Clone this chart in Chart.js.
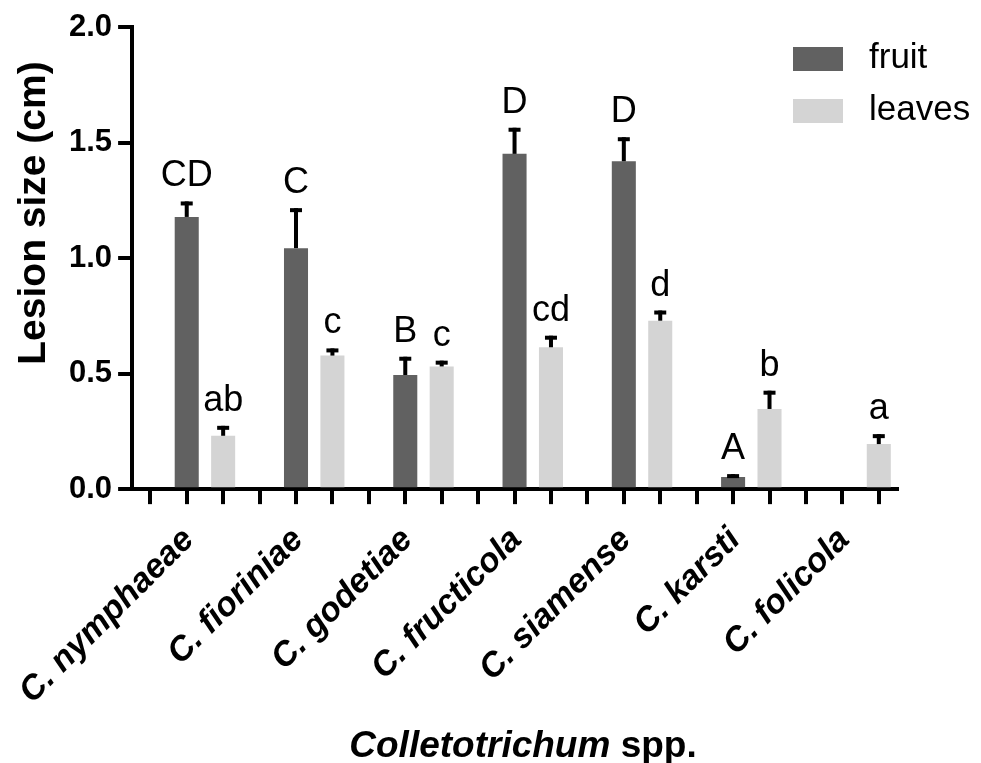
<!DOCTYPE html>
<html>
<head>
<meta charset="utf-8">
<script src="https://cdn.jsdelivr.net/npm/chart.js@4.4.0/dist/chart.umd.min.js"></script>
<style>
  html, body { margin: 0; padding: 0; background: #fff; }
</style>
</head>
<body>
<canvas id="myChart" width="981" height="763"></canvas>
<script>
var especies = ['C. nymphaeae', 'C. fioriniae', 'C. godetiae', 'C. fructicola', 'C. siamense', 'C. karsti', 'C. folicola'];
var frutoMedia = [1.178, 1.043, 0.494, 1.451, 1.419, 0.053, null];
var frutoErro = [0.067, 0.173, 0.079, 0.113, 0.104, 0.012, null];
var frutoLetras = ['CD', 'C', 'B', 'D', 'D', 'A', ''];
var folhaMedia = [0.231, 0.578, 0.531, 0.614, 0.729, 0.347, 0.195];
var folhaErro = [0.043, 0.031, 0.025, 0.050, 0.044, 0.079, 0.043];
var folhaLetras = ['ab', 'c', 'c', 'cd', 'd', 'b', 'a'];
var yTicks = [0, 0.5, 1.0, 1.5, 2.0];

var fonte = '"Liberation Sans", Arial, sans-serif';

// cada especie ocupa 3 posicoes: vazio, fruit, leaves
var posicoes = [];
var frutoDados = [], frutoE = [], frutoL = [];
var folhaDados = [], folhaE = [], folhaL = [];
for (var i = 0; i < especies.length; i++) {
    posicoes.push('', especies[i], '');
    frutoDados.push(null, frutoMedia[i], null);
    frutoE.push(null, frutoErro[i], null);
    frutoL.push('', frutoLetras[i], '');
    folhaDados.push(null, null, folhaMedia[i]);
    folhaE.push(null, null, folhaErro[i]);
    folhaL.push('', '', folhaLetras[i]);
}

var barrasDeErro = {
    id: 'barrasDeErro',
    afterDatasetsDraw: function (chart) {
        var ctx = chart.ctx;
        var y = chart.scales.y;
        chart.data.datasets.forEach(function (ds, d) {
            var meta = chart.getDatasetMeta(d);
            meta.data.forEach(function (bar, i) {
                var v = ds.data[i];
                if (v === null || v === undefined) return;
                var topo = y.getPixelForValue(v + ds.erros[i]);
                ctx.save();
                ctx.fillStyle = '#000';
                ctx.fillRect(bar.x - 2, topo, 4, bar.y - topo);
                ctx.fillRect(bar.x - 6, topo, 12, 4);
                ctx.font = '36px ' + fonte;
                ctx.textAlign = 'center';
                ctx.textBaseline = 'alphabetic';
                ctx.fillText(ds.letras[i], bar.x, topo - 15);
                ctx.restore();
            });
        });
    }
};

var textos = {
    id: 'textos',
    afterDraw: function (chart) {
        var ctx = chart.ctx;
        ctx.save();
        // legenda
        ctx.textAlign = 'left';
        ctx.textBaseline = 'middle';
        ctx.font = '35px ' + fonte;
        chart.data.datasets.forEach(function (ds, d) {
            ctx.fillStyle = ds.backgroundColor;
            ctx.fillRect(793, 47 + d * 52, 50, 24);
            ctx.fillStyle = '#000';
            ctx.fillText(ds.label, 869, 58 + d * 52);
        });
        // titulo do eixo y
        ctx.save();
        ctx.translate(34, 213);
        ctx.rotate(-Math.PI / 2);
        ctx.textAlign = 'center';
        ctx.textBaseline = 'middle';
        ctx.font = 'bold 39px ' + fonte;
        ctx.fillText('Lesion size (cm)', 0, 0);
        ctx.restore();
        // titulo do eixo x
        ctx.textBaseline = 'alphabetic';
        ctx.font = 'italic bold 37px ' + fonte;
        var p1 = 'Colletotrichum';
        var w1 = ctx.measureText(p1).width;
        ctx.font = 'bold 37px ' + fonte;
        var p2 = ' spp.';
        var w2 = ctx.measureText(p2).width;
        var x0 = 523 - (w1 + w2) / 2;
        ctx.font = 'italic bold 37px ' + fonte;
        ctx.fillText(p1, x0, 757);
        ctx.font = 'bold 37px ' + fonte;
        ctx.fillText(p2, x0 + w1, 757);
        ctx.restore();
    }
};

var ctx = document.getElementById('myChart');
var chart = new Chart(ctx, {
    type: 'bar',
    data: {
        labels: posicoes,
        datasets: [{
            label: 'fruit',
            data: frutoDados,
            erros: frutoE,
            letras: frutoL,
            backgroundColor: '#616161'
        }, {
            label: 'leaves',
            data: folhaDados,
            erros: folhaE,
            letras: folhaL,
            backgroundColor: '#d4d4d4'
        }]
    },
    options: {
        responsive: false,
        animation: false,
        layout: { padding: { top: 27, left: 63, right: 84, bottom: 35 } },
        datasets: { bar: { grouped: false, barPercentage: 0.66, categoryPercentage: 1 } },
        plugins: { legend: { display: false }, tooltip: { enabled: false } },
        scales: {
            x: {
                ticks: {
                    autoSkip: false,
                    minRotation: 45,
                    maxRotation: 45,
                    padding: 16,
                    labelOffset: 2,
                    color: '#000',
                    font: { family: fonte, size: 34, style: 'italic', weight: 'bold' }
                },
                grid: { drawOnChartArea: false, offset: false, tickLength: 15, lineWidth: 4, color: '#000' },
                border: { width: 4, color: '#000' }
            },
            y: {
                min: 0,
                max: 2,
                afterBuildTicks: function (scale) {
                    scale.ticks = yTicks.map(function (t) { return { value: t }; });
                },
                ticks: {
                    padding: 6,
                    color: '#000',
                    font: { family: fonte, size: 31, weight: 'bold' },
                    callback: function (v) { return v.toFixed(1); }
                },
                grid: { drawOnChartArea: false, tickLength: 14, lineWidth: 4, color: '#000' },
                border: { width: 4, color: '#000' }
            }
        }
    },
    plugins: [barrasDeErro, textos]
});
</script>
</body>
</html>
